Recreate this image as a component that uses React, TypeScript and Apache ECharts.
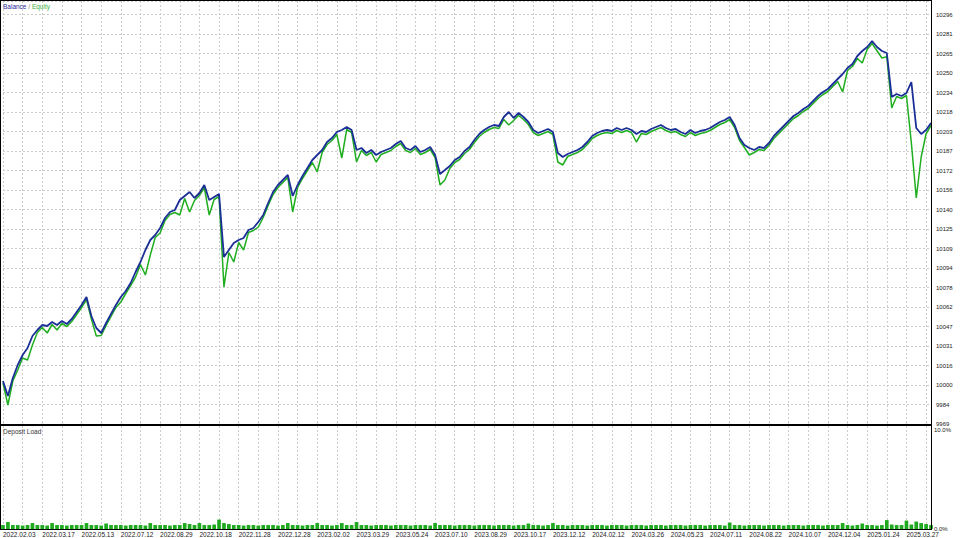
import React, { useEffect, useRef } from 'react';
import * as echarts from 'echarts';

const dateLabels = [
  '2022.02.03', '2022.03.17', '2022.05.13', '2022.07.12', '2022.08.29', '2022.10.18',
  '2022.11.28', '2022.12.28', '2023.02.02', '2023.03.29', '2023.05.24', '2023.07.10',
  '2023.08.29', '2023.10.17', '2023.12.12', '2024.02.12', '2024.03.26', '2024.05.23',
  '2024.07.11', '2024.08.22', '2024.10.07', '2024.12.04', '2025.01.24', '2025.03.27',
];

const balance = [
  10003.7, 9991.7, 10006.1, 10016.5, 10024.5, 10030.1, 10039.7, 10044.5, 10048.5, 10047.7,
  10050.9, 10048.5, 10051.7, 10049.3, 10053.3, 10058.9, 10064.5, 10070.9, 10055.7, 10046.1,
  10042.1, 10050.1, 10057.3, 10064.5, 10070.9, 10075.7, 10082.1, 10090.9, 10098.9, 10108.5,
  10116.5, 10120.5, 10126.1, 10134.1, 10138.9, 10140.5, 10148.5, 10151.7, 10154.9, 10150.1,
  10154.1, 10160.5, 10148.5, 10150.9, 10153.3, 10102.9, 10108.5, 10114.1, 10116.5, 10118.1,
  10124.5, 10126.1, 10130.9, 10136.5, 10146.1, 10154.9, 10160.5, 10164.5, 10168.5, 10151.7,
  10160.5, 10167.7, 10174.1, 10180.5, 10184.5, 10188.5, 10194.9, 10198.1, 10202.9, 10204.5,
  10206.9, 10204.5, 10188.5, 10190.1, 10186.1, 10188.5, 10184.5, 10186.9, 10188.5, 10190.1,
  10193.3, 10195.7, 10190.1, 10188.5, 10191.7, 10186.9, 10188.5, 10190.9, 10184.5, 10169.3,
  10172.5, 10175.7, 10180.5, 10182.9, 10187.7, 10190.9, 10196.5, 10201.3, 10204.5, 10206.9,
  10208.5, 10207.7, 10214.9, 10218.9, 10214.1, 10218.1, 10214.9, 10210.9, 10204.5, 10202.1,
  10203.7, 10205.3, 10202.9, 10186.1, 10182.9, 10185.3, 10186.9, 10188.5, 10190.9, 10194.9,
  10199.7, 10202.1, 10203.7, 10204.5, 10203.7, 10206.1, 10204.5, 10206.1, 10204.5, 10201.3,
  10203.7, 10202.9, 10205.3, 10206.9, 10208.5, 10206.1, 10204.5, 10205.3, 10202.9, 10201.3,
  10204.5, 10202.1, 10203.7, 10204.5, 10206.1, 10208.5, 10210.9, 10212.5, 10214.9, 10208.5,
  10198.1, 10192.5, 10190.1, 10188.5, 10190.9, 10190.1, 10194.1, 10199.7, 10203.7, 10207.7,
  10211.7, 10215.7, 10218.1, 10221.3, 10223.7, 10227.7, 10231.7, 10234.9, 10237.3, 10241.3,
  10245.3, 10249.3, 10254.1, 10257.3, 10263.7, 10267.7, 10270.9, 10275.7, 10270.9, 10267.7,
  10266.1, 10230.9, 10233.3, 10231.7, 10234.1, 10242.9, 10206.1, 10201.3, 10204.5, 10210.1,
];

const equity = [
  10002.1, 9984.5, 10003.7, 10012.5, 10022.1, 10020.5, 10032.5, 10042.5, 10046.5, 10042.1,
  10048.9, 10044.5, 10049.7, 10047.3, 10051.3, 10056.9, 10062.5, 10068.9, 10053.3, 10039.7,
  10040.1, 10048.1, 10055.3, 10062.5, 10066.9, 10073.7, 10080.1, 10086.9, 10096.9, 10088.5,
  10104.5, 10118.5, 10122.1, 10132.1, 10136.9, 10138.5, 10136.5, 10149.7, 10138.9, 10148.1,
  10152.1, 10158.5, 10136.5, 10148.9, 10151.3, 10078.9, 10106.5, 10098.9, 10114.5, 10108.5,
  10122.5, 10124.1, 10126.9, 10134.5, 10144.1, 10152.9, 10158.5, 10162.5, 10166.5, 10138.9,
  10158.5, 10165.7, 10172.1, 10178.5, 10170.9, 10186.5, 10192.9, 10196.1, 10200.9, 10182.1,
  10204.9, 10202.5, 10178.9, 10188.1, 10184.1, 10186.5, 10178.9, 10184.9, 10186.5, 10188.1,
  10191.3, 10193.7, 10188.1, 10186.5, 10189.7, 10184.9, 10186.5, 10188.9, 10182.5, 10160.5,
  10164.5, 10173.7, 10178.5, 10180.9, 10185.7, 10188.9, 10194.5, 10199.3, 10202.5, 10204.9,
  10206.5, 10205.7, 10212.9, 10208.5, 10212.1, 10216.1, 10212.9, 10208.9, 10202.5, 10200.1,
  10201.7, 10203.3, 10200.9, 10178.9, 10176.5, 10183.3, 10184.9, 10186.5, 10188.9, 10192.9,
  10197.7, 10200.1, 10201.7, 10202.5, 10201.7, 10204.1, 10202.5, 10204.1, 10202.5, 10194.9,
  10201.7, 10200.9, 10203.3, 10204.9, 10206.5, 10204.1, 10202.5, 10203.3, 10200.9, 10199.3,
  10202.5, 10200.1, 10201.7, 10202.5, 10204.1, 10206.5, 10208.9, 10210.5, 10212.9, 10206.5,
  10196.1, 10190.5, 10184.5, 10186.5, 10188.9, 10188.1, 10192.1, 10197.7, 10201.7, 10205.7,
  10209.7, 10213.7, 10216.1, 10219.3, 10221.7, 10225.7, 10229.7, 10232.9, 10235.3, 10239.3,
  10243.3, 10234.9, 10252.1, 10255.3, 10261.7, 10258.1, 10268.9, 10273.7, 10267.9, 10262.1,
  10263.1, 10222.1, 10231.3, 10229.7, 10232.1, 10194.1, 10150.1, 10182.9, 10201.5, 10208.1,
];

const depositLoad = [
  0.4, 0.7, 0.4, 0.4, 0.35, 0.4, 0.6, 0.4, 0.4, 0.35,
  0.6, 0.4, 0.4, 0.35, 0.4, 0.4, 0.4, 0.6, 0.4, 0.4,
  0.35, 0.55, 0.4, 0.4, 0.4, 0.35, 0.4, 0.4, 0.4, 0.35,
  0.6, 0.4, 0.4, 0.4, 0.35, 0.4, 0.4, 0.6, 0.5, 0.4,
  0.6, 0.4, 0.4, 0.45, 0.95, 0.6, 0.5, 0.4, 0.4, 0.35,
  0.4, 0.4, 0.35, 0.4, 0.4, 0.4, 0.35, 0.4, 0.6, 0.4,
  0.4, 0.35, 0.4, 0.4, 0.6, 0.4, 0.4, 0.35, 0.4, 0.6,
  0.4, 0.4, 0.7, 0.4, 0.4, 0.35, 0.4, 0.4, 0.4, 0.35,
  0.4, 0.4, 0.4, 0.35, 0.4, 0.4, 0.4, 0.35, 0.6, 0.4,
  0.4, 0.4, 0.35, 0.4, 0.4, 0.4, 0.35, 0.4, 0.4, 0.4,
  0.35, 0.4, 0.4, 0.4, 0.35, 0.4, 0.4, 0.55, 0.4, 0.4,
  0.35, 0.4, 0.6, 0.4, 0.4, 0.35, 0.4, 0.4, 0.4, 0.35,
  0.4, 0.4, 0.4, 0.35, 0.4, 0.4, 0.4, 0.35, 0.4, 0.4,
  0.4, 0.35, 0.4, 0.4, 0.4, 0.35, 0.4, 0.4, 0.4, 0.35,
  0.4, 0.4, 0.4, 0.35, 0.4, 0.4, 0.4, 0.35, 0.65, 0.4,
  0.4, 0.35, 0.4, 0.4, 0.4, 0.35, 0.4, 0.4, 0.4, 0.35,
  0.4, 0.4, 0.4, 0.35, 0.4, 0.4, 0.4, 0.35, 0.4, 0.4,
  0.4, 0.6, 0.4, 0.35, 0.4, 0.55, 0.4, 0.4, 0.35, 0.4,
  0.9, 0.45, 0.4, 0.4, 0.85, 0.45, 0.75, 0.6, 0.5, 0.4,
];

const FONT = '"Liberation Sans", Arial, sans-serif';

export default function App() {
  const ref = useRef<HTMLDivElement>(null);

  useEffect(() => {
    const chart = echarts.init(ref.current!, null, { renderer: 'svg' });
    const cats = balance.map((_, i) => String(i));
    const gridLine = { show: true, lineStyle: { color: '#cccccc', type: [2, 2] as any, width: 1 } };

    chart.setOption({
      animation: false,
      backgroundColor: '#ffffff',
      grid: [
        { left: 3, right: 29, top: 1, bottom: 114 },
        { left: 3, right: 29, top: 422, bottom: 9 },
      ],
      xAxis: [
        {
          type: 'category', gridIndex: 0, data: cats, boundaryGap: false,
          axisLine: { show: false }, axisTick: { show: false }, axisLabel: { show: false },
          splitLine: { ...gridLine, interval: 3 },
        },
        {
          type: 'category', gridIndex: 1, data: cats, boundaryGap: false,
          axisLine: { show: false }, axisTick: { show: false },
          axisLabel: {
            show: true, interval: 7, align: 'left', margin: 2, fontSize: 6.5,
            fontFamily: FONT, color: '#222',
            formatter: (_v: string, idx: number) => dateLabels[idx / 8] ?? '',
          },
          splitLine: { ...gridLine, interval: 3 },
        },
      ],
      yAxis: [
        {
          type: 'value', gridIndex: 0, position: 'right',
          min: 9969.3, max: 10307.7, interval: 15.6,
          axisLine: { show: false }, axisTick: { show: false },
          axisLabel: {
            margin: 5, fontSize: 6, fontFamily: FONT, color: '#222',
            showMaxLabel: false,
            formatter: (v: number) => String(Math.floor(v + 1e-6)),
          },
          splitLine: gridLine,
        },
        {
          type: 'value', gridIndex: 1, position: 'right',
          min: 0, max: 10.8, interval: 10,
          axisLine: { show: false }, axisTick: { show: false },
          axisLabel: {
            margin: 3, fontSize: 6, fontFamily: FONT, color: '#222',
            showMaxLabel: false,
            formatter: (v: number) => v.toFixed(1) + '%',
          },
          splitLine: { show: false },
        },
      ],
      series: [
        {
          name: 'Equity', type: 'line', xAxisIndex: 0, yAxisIndex: 0, data: equity,
          showSymbol: false, symbol: 'none', lineStyle: { color: '#1fae1f', width: 1.5 }, z: 2,
        },
        {
          name: 'Balance', type: 'line', xAxisIndex: 0, yAxisIndex: 0, data: balance,
          showSymbol: false, symbol: 'none', lineStyle: { color: '#1b2f96', width: 1.8 }, z: 3,
        },
        {
          name: 'Deposit Load', type: 'bar', xAxisIndex: 1, yAxisIndex: 1, data: depositLoad,
          barCategoryGap: '25%', itemStyle: { color: '#1ea81e' },
        },
      ],
      graphic: [
        { type: 'line', shape: { x1: 0.5, y1: 0, x2: 0.5, y2: 530 }, style: { stroke: '#000', lineWidth: 1 }, z: 100 },
        { type: 'line', shape: { x1: 0, y1: 0.5, x2: 931, y2: 0.5 }, style: { stroke: '#000', lineWidth: 1 }, z: 100 },
        { type: 'line', shape: { x1: 931.5, y1: 0, x2: 931.5, y2: 530 }, style: { stroke: '#000', lineWidth: 1 }, z: 100 },
        { type: 'line', shape: { x1: 0, y1: 425, x2: 932, y2: 425 }, style: { stroke: '#000', lineWidth: 2 }, z: 100 },
        { type: 'line', shape: { x1: 0, y1: 529.5, x2: 932, y2: 529.5 }, style: { stroke: '#000', lineWidth: 1 }, z: 100 },
        {
          type: 'text', left: 3, top: 3, z: 100,
          style: {
            text: '{b|Balance} {s|/} {e|Equity}',
            fontSize: 6.5, fontFamily: FONT,
            rich: {
              b: { fill: '#2a2a9a', fontSize: 6.5, fontFamily: FONT },
              s: { fill: '#777', fontSize: 6.5, fontFamily: FONT },
              e: { fill: '#3cb43c', fontSize: 6.5, fontFamily: FONT },
            },
          },
        },
        {
          type: 'text', left: 3, top: 428, z: 100,
          style: { text: 'Deposit Load', fill: '#333', fontSize: 6.5, fontFamily: FONT },
        },
      ],
    });

    return () => chart.dispose();
  }, []);

  return <div ref={ref} style={{ position: 'fixed', left: 0, top: 0, width: 960, height: 538 }} />;
}
